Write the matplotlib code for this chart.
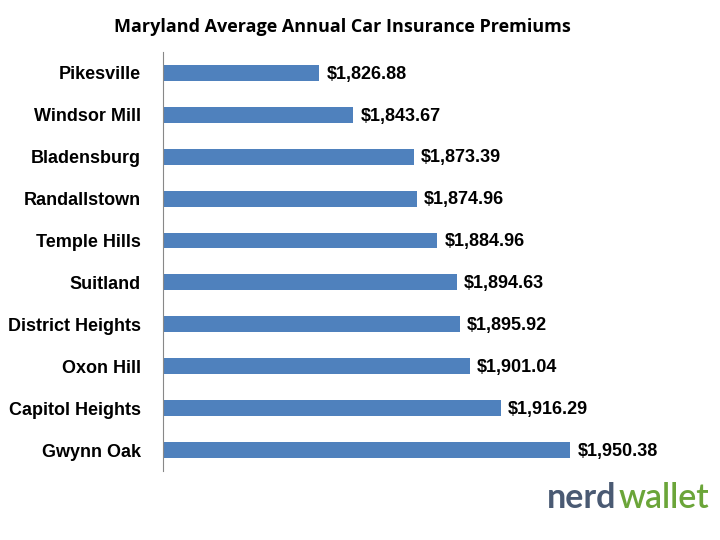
import matplotlib.pyplot as plt

cities = ['Pikesville', 'Windsor Mill', 'Bladensburg', 'Randallstown', 'Temple Hills',
          'Suitland', 'District Heights', 'Oxon Hill', 'Capitol Heights', 'Gwynn Oak']
premiums = [1826.88, 1843.67, 1873.39, 1874.96, 1884.96,
            1894.63, 1895.92, 1901.04, 1916.29, 1950.38]

fig = plt.figure(figsize=(7.2, 5.4), dpi=100)
ax = fig.add_axes([0.2264, 0.1278, 0.7056, 0.776])

pos = list(range(len(cities)))
ax.barh(pos, premiums, height=0.38, color='#4F81BD', left=0)
ax.set_xlim(1750, 2000)
ax.set_ylim(len(cities) - 0.5, -0.5)

ax.set_yticks(pos)
ax.set_yticklabels(cities, fontsize=13, fontweight='bold', family='Liberation Sans')
ax.tick_params(axis='y', length=0, pad=16)
ax.set_xticks([])
for s in ['top', 'right', 'bottom']:
    ax.spines[s].set_visible(False)
ax.spines['left'].set_color('#888888')

for p, v in zip(pos, premiums):
    ax.text(v + 3.5, p + 0.03, '${:,.2f}'.format(v), va='center', ha='left',
            fontsize=13, fontweight='bold', family='Liberation Sans')

fig.text(0.475, 0.95, 'Maryland Average Annual Car Insurance Premiums',
         ha='center', va='center', fontsize=13, fontweight='bold', family='Open Sans')

# logo
t1 = fig.text(547 / 720, 1 - 498 / 540, 'nerd', ha='left', va='center', fontsize=24.5,
              fontweight='bold', color='#4A5A73', family='Lato')
fig.canvas.draw()
bb = t1.get_window_extent()
fig.text((bb.x1 + 2) / 720, 1 - 498 / 540, 'wallet', ha='left', va='center', fontsize=24.5,
         fontweight='semibold', color='#6BA539', family='Lato')

fig.savefig('out.png', dpi=100)
